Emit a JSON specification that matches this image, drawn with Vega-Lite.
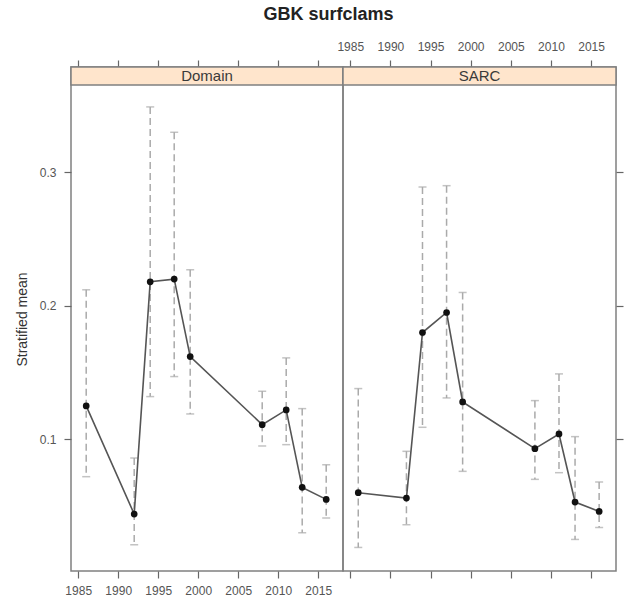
{
  "$schema": "https://vega.github.io/schema/vega-lite/v6.json",
  "padding": {"left": 14, "top": 6, "right": 5, "bottom": 5},
  "background": "white",
  "title": {"text": "GBK surfclams", "font": "Liberation Sans", "fontSize": 18, "fontWeight": "bold", "color": "#222", "anchor": "middle", "dx": 9, "offset": 15},
  "datasets": {
    "surf": [
      {"panel": "Domain", "year": 1986, "mean": 0.125, "lower": 0.072, "upper": 0.212},
      {"panel": "Domain", "year": 1992, "mean": 0.044, "lower": 0.021, "upper": 0.086},
      {"panel": "Domain", "year": 1994, "mean": 0.218, "lower": 0.132, "upper": 0.349},
      {"panel": "Domain", "year": 1997, "mean": 0.220, "lower": 0.147, "upper": 0.330},
      {"panel": "Domain", "year": 1999, "mean": 0.162, "lower": 0.119, "upper": 0.227},
      {"panel": "Domain", "year": 2008, "mean": 0.111, "lower": 0.095, "upper": 0.136},
      {"panel": "Domain", "year": 2011, "mean": 0.122, "lower": 0.096, "upper": 0.161},
      {"panel": "Domain", "year": 2013, "mean": 0.064, "lower": 0.030, "upper": 0.123},
      {"panel": "Domain", "year": 2016, "mean": 0.055, "lower": 0.041, "upper": 0.081},
      {"panel": "SARC", "year": 1986, "mean": 0.060, "lower": 0.019, "upper": 0.138},
      {"panel": "SARC", "year": 1992, "mean": 0.056, "lower": 0.036, "upper": 0.091},
      {"panel": "SARC", "year": 1994, "mean": 0.180, "lower": 0.109, "upper": 0.289},
      {"panel": "SARC", "year": 1997, "mean": 0.195, "lower": 0.131, "upper": 0.290},
      {"panel": "SARC", "year": 1999, "mean": 0.128, "lower": 0.076, "upper": 0.210},
      {"panel": "SARC", "year": 2008, "mean": 0.093, "lower": 0.070, "upper": 0.129},
      {"panel": "SARC", "year": 2011, "mean": 0.104, "lower": 0.075, "upper": 0.149},
      {"panel": "SARC", "year": 2013, "mean": 0.053, "lower": 0.025, "upper": 0.102},
      {"panel": "SARC", "year": 2016, "mean": 0.046, "lower": 0.034, "upper": 0.068}
    ]
  },
  "config": {
    "font": "Liberation Sans",
    "view": {"stroke": "#808080", "strokeWidth": 1.5},
    "axis": {
      "domain": false, "grid": false,
      "tickColor": "#666", "tickSize": 7, "tickWidth": 1.2,
      "labelFont": "Liberation Sans", "labelFontSize": 12, "labelColor": "#555",
      "titleFont": "Liberation Sans", "titleFontSize": 14, "titleFontWeight": "normal", "titleColor": "#333"
    }
  },
  "bounds": "flush",
  "spacing": 0,
  "hconcat": [
    {
      "width": 272, "height": 504,
      "resolve": {"axis": {"x": "independent", "y": "independent"}},
      "layer": [
        {
          "data": {"values": [{"label": "Domain"}]},
          "mark": {"type": "rect", "fill": "#ffe5cc", "stroke": "#808080", "strokeWidth": 1.5},
          "encoding": {
            "x": {"datum": 1984.1, "type": "quantitative", "scale": {"domain": [1984.1, 2018.1], "nice": false, "zero": false}, "axis": null},
            "x2": {"datum": 2018.1},
            "y": {"datum": 0.3654, "type": "quantitative", "scale": {"domain": [0.00135, 0.3789], "nice": false, "zero": false}, "axis": null},
            "y2": {"datum": 0.3789}
          }
        },
        {
          "data": {"values": [{"label": "Domain"}]},
          "mark": {"type": "text", "font": "Liberation Sans", "fontSize": 15, "color": "#3a3a3a", "baseline": "middle", "align": "center"},
          "encoding": {
            "x": {"datum": 2001.1, "type": "quantitative", "scale": {"domain": [1984.1, 2018.1], "nice": false, "zero": false}, "axis": null},
            "y": {"datum": 0.37215, "type": "quantitative", "scale": {"domain": [0.00135, 0.3789], "nice": false, "zero": false}, "axis": null},
            "text": {"field": "label"}
          }
        },
        {
          "data": {"name": "surf"},
          "transform": [{"filter": "datum.panel === 'Domain'"}],
          "mark": {"type": "rule", "color": "#aaaaaa", "strokeWidth": 1.5, "strokeDash": [7, 4]},
          "encoding": {
            "x": {"field": "year", "type": "quantitative", "scale": {"domain": [1984.1, 2018.1], "nice": false, "zero": false},
                  "axis": {"orient": "bottom", "values": [1985, 1990, 1995, 2000, 2005, 2010, 2015], "format": "d", "title": null, "labelPadding": 7}},
            "y": {"field": "upper", "type": "quantitative", "scale": {"domain": [0.00135, 0.3789], "nice": false, "zero": false},
                  "axis": {"orient": "left", "values": [0.1, 0.2, 0.3], "format": ".1f", "title": "Stratified mean", "labelPadding": 8, "titlePadding": 10}},
            "y2": {"field": "lower"}
          }
        },
        {
          "data": {"name": "surf"},
          "transform": [{"filter": "datum.panel === 'Domain'"}],
          "mark": {"type": "tick", "orient": "horizontal", "color": "#aaaaaa", "size": 8, "thickness": 1.5},
          "encoding": {
            "x": {"field": "year", "type": "quantitative", "scale": {"domain": [1984.1, 2018.1], "nice": false, "zero": false},
                  "axis": {"orient": "top", "values": [1985, 1990, 1995, 2000, 2005, 2010, 2015], "labels": false, "title": null}},
            "y": {"field": "upper", "type": "quantitative", "scale": {"domain": [0.00135, 0.3789], "nice": false, "zero": false}, "axis": null}
          }
        },
        {
          "data": {"name": "surf"},
          "transform": [{"filter": "datum.panel === 'Domain'"}],
          "mark": {"type": "tick", "orient": "horizontal", "color": "#aaaaaa", "size": 8, "thickness": 1.5},
          "encoding": {
            "x": {"field": "year", "type": "quantitative", "scale": {"domain": [1984.1, 2018.1], "nice": false, "zero": false}, "axis": null},
            "y": {"field": "lower", "type": "quantitative", "scale": {"domain": [0.00135, 0.3789], "nice": false, "zero": false}, "axis": null}
          }
        },
        {
          "data": {"name": "surf"},
          "transform": [{"filter": "datum.panel === 'Domain'"}],
          "mark": {"type": "line", "color": "#555555", "strokeWidth": 1.6},
          "encoding": {
            "x": {"field": "year", "type": "quantitative", "scale": {"domain": [1984.1, 2018.1], "nice": false, "zero": false}, "axis": null},
            "y": {"field": "mean", "type": "quantitative", "scale": {"domain": [0.00135, 0.3789], "nice": false, "zero": false}, "axis": null}
          }
        },
        {
          "data": {"name": "surf"},
          "transform": [{"filter": "datum.panel === 'Domain'"}],
          "mark": {"type": "circle", "color": "#111111", "opacity": 1, "size": 45},
          "encoding": {
            "x": {"field": "year", "type": "quantitative", "scale": {"domain": [1984.1, 2018.1], "nice": false, "zero": false}, "axis": null},
            "y": {"field": "mean", "type": "quantitative", "scale": {"domain": [0.00135, 0.3789], "nice": false, "zero": false}, "axis": null}
          }
        }
      ]
    },
    {
      "width": 273, "height": 504,
      "resolve": {"axis": {"x": "independent", "y": "independent"}},
      "layer": [
        {
          "data": {"values": [{"label": "SARC"}]},
          "mark": {"type": "rect", "fill": "#ffe5cc", "stroke": "#808080", "strokeWidth": 1.5},
          "encoding": {
            "x": {"datum": 1984.1, "type": "quantitative", "scale": {"domain": [1984.1, 2018.1], "nice": false, "zero": false}, "axis": null},
            "x2": {"datum": 2018.1},
            "y": {"datum": 0.3654, "type": "quantitative", "scale": {"domain": [0.00135, 0.3789], "nice": false, "zero": false}, "axis": null},
            "y2": {"datum": 0.3789}
          }
        },
        {
          "data": {"values": [{"label": "SARC"}]},
          "mark": {"type": "text", "font": "Liberation Sans", "fontSize": 15, "color": "#3a3a3a", "baseline": "middle", "align": "center"},
          "encoding": {
            "x": {"datum": 2001.1, "type": "quantitative", "scale": {"domain": [1984.1, 2018.1], "nice": false, "zero": false}, "axis": null},
            "y": {"datum": 0.37215, "type": "quantitative", "scale": {"domain": [0.00135, 0.3789], "nice": false, "zero": false}, "axis": null},
            "text": {"field": "label"}
          }
        },
        {
          "data": {"name": "surf"},
          "transform": [{"filter": "datum.panel === 'SARC'"}],
          "mark": {"type": "rule", "color": "#aaaaaa", "strokeWidth": 1.5, "strokeDash": [7, 4]},
          "encoding": {
            "x": {"field": "year", "type": "quantitative", "scale": {"domain": [1984.1, 2018.1], "nice": false, "zero": false},
                  "axis": {"orient": "top", "values": [1985, 1990, 1995, 2000, 2005, 2010, 2015], "format": "d", "title": null, "labelPadding": 7}},
            "y": {"field": "upper", "type": "quantitative", "scale": {"domain": [0.00135, 0.3789], "nice": false, "zero": false},
                  "axis": {"orient": "right", "values": [0.1, 0.2, 0.3], "labels": false, "title": null}},
            "y2": {"field": "lower"}
          }
        },
        {
          "data": {"name": "surf"},
          "transform": [{"filter": "datum.panel === 'SARC'"}],
          "mark": {"type": "tick", "orient": "horizontal", "color": "#aaaaaa", "size": 8, "thickness": 1.5},
          "encoding": {
            "x": {"field": "year", "type": "quantitative", "scale": {"domain": [1984.1, 2018.1], "nice": false, "zero": false},
                  "axis": {"orient": "bottom", "values": [1985, 1990, 1995, 2000, 2005, 2010, 2015], "labels": false, "title": null}},
            "y": {"field": "upper", "type": "quantitative", "scale": {"domain": [0.00135, 0.3789], "nice": false, "zero": false}, "axis": null}
          }
        },
        {
          "data": {"name": "surf"},
          "transform": [{"filter": "datum.panel === 'SARC'"}],
          "mark": {"type": "tick", "orient": "horizontal", "color": "#aaaaaa", "size": 8, "thickness": 1.5},
          "encoding": {
            "x": {"field": "year", "type": "quantitative", "scale": {"domain": [1984.1, 2018.1], "nice": false, "zero": false}, "axis": null},
            "y": {"field": "lower", "type": "quantitative", "scale": {"domain": [0.00135, 0.3789], "nice": false, "zero": false}, "axis": null}
          }
        },
        {
          "data": {"name": "surf"},
          "transform": [{"filter": "datum.panel === 'SARC'"}],
          "mark": {"type": "line", "color": "#555555", "strokeWidth": 1.6},
          "encoding": {
            "x": {"field": "year", "type": "quantitative", "scale": {"domain": [1984.1, 2018.1], "nice": false, "zero": false}, "axis": null},
            "y": {"field": "mean", "type": "quantitative", "scale": {"domain": [0.00135, 0.3789], "nice": false, "zero": false}, "axis": null}
          }
        },
        {
          "data": {"name": "surf"},
          "transform": [{"filter": "datum.panel === 'SARC'"}],
          "mark": {"type": "circle", "color": "#111111", "opacity": 1, "size": 45},
          "encoding": {
            "x": {"field": "year", "type": "quantitative", "scale": {"domain": [1984.1, 2018.1], "nice": false, "zero": false}, "axis": null},
            "y": {"field": "mean", "type": "quantitative", "scale": {"domain": [0.00135, 0.3789], "nice": false, "zero": false}, "axis": null}
          }
        }
      ]
    }
  ]
}
